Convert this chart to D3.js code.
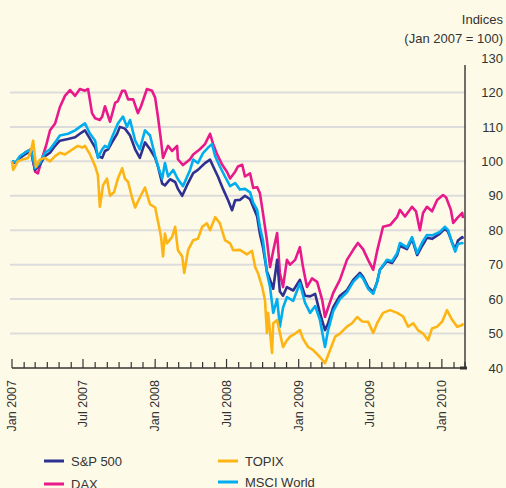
<!DOCTYPE html>
<html><head><meta charset="utf-8">
<script src="https://cdn.jsdelivr.net/npm/d3@7"></script>
<style>
html,body{margin:0;padding:0;background:#fefae8;}
svg{display:block;font-family:"Liberation Sans",Arial,Helvetica,sans-serif;}
</style></head><body>
<svg id="c" width="506" height="488"></svg>
<script>
// Data: [days since 1 Jan 2007, index value (Jan 2007 = 100)]
const sp500 = [[0,100],[10,99.5],[20,101],[33,102],[48,103],[59,97.5],[71,99],[84,101.5],[97,102.5],[110,104.5],[122,106],[143,106.5],[161,107],[173,108],[186,109],[199,106.5],[212,104],[219,101.5],[230,101],[237,103],[245,103.5],[255,105.5],[268,108],[275,110],[288,109.5],[301,107.5],[314,103.5],[326,101],[339,105.5],[352,103.5],[365,101],[372,98.6],[383,93.5],[390,93],[403,94.8],[416,94],[423,92],[434,90],[446,93],[462,96.6],[474,97.5],[492,99.5],[505,100.5],[513,98.5],[525,95.6],[538,92],[551,88.7],[561,85.8],[569,88.7],[581,88.8],[594,90],[607,89],[625,84],[632,79],[640,75],[650,68],[658,65.6],[666,63],[676,71.4],[683,62.2],[691,61],[701,63.5],[717,62.5],[734,65.6],[747,61],[760,60.8],[773,61.5],[785,56],[798,51],[806,53],[819,57.7],[836,61],[854,62.6],[870,65.6],[887,67.6],[895,66.5],[908,63.5],[921,62],[931,65],[938,68.5],[956,71],[969,70.5],[982,72.8],[989,75.5],[1007,74.5],[1020,77.5],[1033,72.8],[1046,75.5],[1058,77.8],[1071,77.5],[1091,79],[1104,80.5],[1112,79.5],[1122,76.5],[1130,74.5],[1137,77],[1148,78],[1150,77.5]];
const msci = [[0,100],[10,99.8],[20,101.5],[33,102.5],[48,103.5],[59,98],[71,99.5],[84,102.5],[97,103.5],[110,105.5],[122,107.5],[143,108],[161,109],[173,110],[186,111],[199,108],[212,106],[219,101],[230,103.5],[237,104.5],[245,104],[255,107],[270,111],[283,113],[293,110],[301,112],[314,106],[326,103.5],[339,109],[352,107.5],[365,101.5],[372,98.6],[383,95],[390,99.5],[398,95.6],[411,97.5],[423,94.8],[436,92.8],[454,97.5],[462,100.5],[474,99.5],[487,102.4],[500,104],[510,105],[518,101.5],[530,98.5],[543,95.6],[556,92.8],[569,93.7],[581,91.8],[594,92],[607,91],[615,88],[625,85.9],[632,81],[640,77],[650,67.6],[658,63.5],[666,56],[676,60],[683,52],[691,57.5],[701,60.6],[717,59.5],[734,64.6],[747,59],[760,56],[773,58],[785,54],[798,46.1],[806,51],[819,56.5],[836,60],[854,62],[870,65],[887,67],[895,66],[908,63],[921,61.5],[931,65],[938,68.5],[956,71.4],[969,71],[982,73.3],[989,76.3],[1007,75],[1020,78],[1033,73.3],[1046,76.5],[1058,78.6],[1071,78.5],[1091,79.5],[1104,81],[1112,80],[1122,76.3],[1130,73.8],[1137,76],[1148,76.3],[1150,76]];
const dax = [[0,100],[10,99.5],[20,101],[33,102.5],[48,103.5],[59,97],[66,96.5],[77,101],[87,104.6],[97,109],[110,111],[122,115.7],[135,119],[148,120.7],[161,119],[173,121],[186,120.5],[194,121],[204,114],[212,112.5],[224,112],[230,113],[237,116],[250,111.5],[263,117],[270,117.5],[281,120.5],[288,120.5],[296,118],[309,118],[321,114],[329,116],[344,121],[357,120.5],[365,118.5],[372,113],[380,106],[385,101],[390,102.4],[398,104.5],[408,103],[421,104.5],[423,100.6],[436,98.9],[454,100.6],[462,102],[479,103.5],[492,105],[505,108],[513,105],[523,102],[536,99],[548,97],[556,95],[569,97],[576,98.5],[587,99],[594,95.6],[607,96.5],[615,92.3],[625,92.5],[632,90.8],[640,84.9],[650,77],[658,69.3],[666,74],[676,79.2],[683,67.6],[691,63.5],[701,71.4],[709,70],[722,71.4],[734,75.1],[742,69.3],[752,63.5],[765,66],[778,65],[791,59.7],[798,54.8],[806,57.5],[819,61.8],[836,65.6],[854,71.4],[870,74.3],[882,76.3],[895,74.5],[908,71.4],[921,68.5],[931,74],[946,81],[964,81.5],[982,83.9],[989,85.9],[1002,84],[1020,86.8],[1030,85.5],[1040,80],[1048,85],[1058,86.8],[1071,85.5],[1084,88.8],[1099,90.2],[1107,89.5],[1119,85.9],[1125,82.1],[1135,83.5],[1148,85],[1150,83.5]];
const topix = [[0,100],[3,97.5],[15,100],[26,100.5],[41,101],[48,103],[54,106],[61,98.4],[71,100.5],[84,101],[97,100],[110,101.5],[122,102.5],[135,102],[148,103],[161,104],[168,104.5],[179,104],[186,104.5],[199,102],[212,98.6],[219,96],[224,86.8],[232,93],[242,95],[250,90],[260,91],[270,95],[281,98],[288,95],[296,94],[306,89.5],[314,86.6],[326,89.5],[339,92.4],[352,87.5],[365,86.6],[372,82.7],[380,78],[385,72.4],[390,79],[395,76.2],[408,78],[416,81],[423,74.2],[434,72.4],[439,67.6],[449,74.2],[462,77.1],[474,77.5],[485,81],[497,82],[505,80],[518,83.8],[530,82],[543,77.1],[556,76.2],[564,74.2],[581,74.3],[599,73],[612,74],[620,69.3],[627,67.6],[638,63.5],[645,59.7],[650,50.2],[653,56],[663,44.4],[666,53],[676,53.9],[683,50.2],[691,46.1],[701,48],[709,49.1],[722,50],[734,51],[742,48.5],[755,46.1],[768,45.2],[785,43.2],[798,41.4],[812,45.5],[824,49.1],[836,50],[854,52],[867,53],[880,54.8],[893,53.5],[908,53.4],[921,50.2],[931,53],[946,56],[964,56.8],[982,56],[997,55],[1010,52],[1023,53],[1035,51],[1048,50],[1061,48.1],[1071,51.5],[1084,52],[1097,53.5],[1109,56.8],[1122,54],[1135,52],[1148,52.5],[1150,53]];

const seriesNames = ["S&P 500","DAX","TOPIX","MSCI World"];
const seriesColors = ["#2e3192","#e8198b","#fdb515","#00aeef"];
const yTicks = [40,50,60,70,80,90,100,110,120,130];
const gridValues = [50,60,70,80,90,100,110,120];
const xLabelDates = ["2007-01-01","2007-07-01","2008-01-01","2008-07-01","2009-01-01","2009-07-01","2010-01-01"];
const xLabels = ["Jan 2007","Jul 2007","Jan 2008","Jul 2008","Jan 2009","Jul 2009","Jan 2010"];

const svg = d3.select("#c");
const start = new Date(2007,0,1);
const toDate = d => d3.timeDay.offset(start, d);
const x = d3.scaleTime().domain([start, new Date(2010,2,1)]).range([12,465]);
const y = d3.scaleLinear().domain([40,130]).range([368,58]);
const ink = "#333333";

svg.append("rect").attr("width",506).attr("height",488).attr("fill","#fefae8");

// grid
svg.append("g").selectAll("line").data(gridValues).join("line")
  .attr("x1",10).attr("x2",465).attr("y1",d=>y(d)).attr("y2",d=>y(d))
  .attr("stroke","#dcdcdc").attr("stroke-width",2);

// lines
const line = d3.line().x(d=>x(toDate(d[0]))).y(d=>y(d[1]));
const drawOrder = [[dax,1],[sp500,0],[msci,3],[topix,2]];
drawOrder.forEach(([data,i])=>{
  svg.append("path").datum(data).attr("d",line).attr("fill","none")
    .attr("stroke",seriesColors[i]).attr("stroke-width",2.6).attr("stroke-linejoin","round");
});

// right axis
const yAxis = d3.axisRight(y).tickValues(yTicks).tickSize(0).tickPadding(0);
const ya = svg.append("g").attr("transform","translate(465,0)").call(yAxis);
ya.select(".domain").remove();
ya.selectAll("text").attr("x",38).attr("text-anchor","end").attr("font-size",13).attr("fill",ink).attr("font-family","Liberation Sans, Arial");
svg.append("line").attr("x1",465).attr("x2",465).attr("y1",y(128)).attr("y2",y(40)+1).attr("stroke",ink).attr("stroke-width",1.4);

// bottom axis with monthly ticks pointing up
const months = d3.timeMonth.range(start, new Date(2010,2,2));
const xa = svg.append("g").attr("transform","translate(0,368)");
xa.append("line").attr("x1",12).attr("x2",466).attr("stroke",ink).attr("stroke-width",1.4);
xa.selectAll("line.t").data(months).join("line").attr("class","t")
  .attr("x1",d=>x(d)).attr("x2",d=>x(d)).attr("y1",0)
  .attr("y2",d=>(d.getMonth()%6===0)?-9:-6).attr("stroke",ink).attr("stroke-width",1.2);
xa.append("line").attr("x1",460).attr("x2",467).attr("y1",0).attr("y2",0).attr("stroke",ink).attr("stroke-width",3);
xa.selectAll("text").data(xLabelDates).join("text")
  .attr("transform",(d)=>`translate(${x(new Date(d+"T00:00:00"))+4},12) rotate(-90)`)
  .attr("text-anchor","end").attr("font-size",12.5).attr("fill",ink)
  .text((d,i)=>xLabels[i]);

// title
svg.append("text").attr("x",503).attr("y",24).attr("text-anchor","end").attr("font-size",13).attr("fill",ink).text("Indices");
svg.append("text").attr("x",503).attr("y",43).attr("text-anchor","end").attr("font-size",13).attr("fill",ink).text("(Jan 2007 = 100)");

// legend
const legPos = [[44,461],[44,484],[218,461],[218,482]];
seriesNames.forEach((n,i)=>{
  const [lx,ly] = legPos[i];
  svg.append("line").attr("x1",lx).attr("x2",lx+20).attr("y1",ly).attr("y2",ly)
    .attr("stroke",seriesColors[i]).attr("stroke-width",3);
  svg.append("text").attr("x",lx+27).attr("y",ly+5).attr("font-size",13).attr("fill",ink).text(n);
});
</script></body></html>
